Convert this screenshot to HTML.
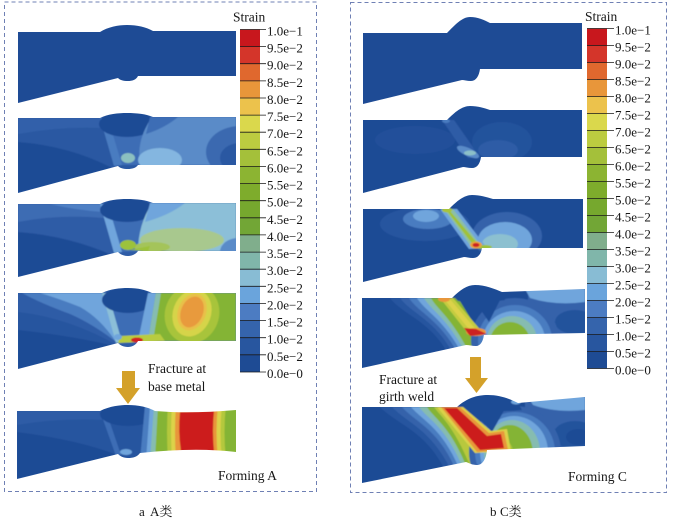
<!DOCTYPE html>
<html><head><meta charset="utf-8"><style>
html,body{margin:0;padding:0;background:#fff;}
svg{display:block}
text{font-family:"Liberation Serif","Noto Serif CJK SC",serif;fill:#161616;}
</style></head><body>
<svg width="674" height="518" viewBox="0 0 674 518" xmlns="http://www.w3.org/2000/svg">
<defs>
<filter id="bl" x="-5%" y="-5%" width="110%" height="110%"><feGaussianBlur stdDeviation="0.6"/></filter>
<clipPath id="a1"><path d="M18,32 L100,32 C108,27 118,25 127,25 C137,25 146,27 153,31 L236,31 L236,76 L138,76 C136,80 132,81 128,81 C123,81 120,80 118,78 L18,103 Z"/></clipPath>
<clipPath id="a2"><path d="M18,118 L100,118 C108,114 118,113 127,113 C137,113 146,114 153,117 L236,117 L236,165 L138,165 C136,168 132,169 128,169 C123,169 120,168 118,166 L18,193 Z"/></clipPath>
<clipPath id="a3"><path d="M18,204 L100,204 C108,200 118,199 127,199 C137,199 146,200 153,203 L236,203 L236,251 L138,251 C136,254 132,256 128,256 C123,256 120,254 118,252 L18,277 Z"/></clipPath>
<clipPath id="a4"><path d="M18,293 L102,293 C110,289 120,288 128,288 C138,288 146,290 152,293 L236,293 L236,341 L138,341 C136,345 132,347 128,347 C123,347 120,345 118,343 L18,369 Z"/></clipPath>
<clipPath id="a5"><path d="M17,411 L100,411 C110,406 120,405 128,405 C138,405 148,407 155,411 Q190,414 236,410 L236,452 Q195,447 140,453 C137,457 133,458 128,458 C123,458 120,456 118,454 L17,479 Z"/></clipPath>
<clipPath id="c1"><path d="M363,33 L447,33 C455,25 462,17 470,17 C478,17 484,20 490,23 L582,23 L582,69 L480,69 C479,76 476,81 471,81 C467,81 464,80 462,80 L363,104 Z"/></clipPath>
<clipPath id="c2"><path d="M363,120 L447,120 C455,112 462,106 470,106 C478,106 484,108 490,110 L582,110 L582,157 L481,157 C480,164 477,168 472,168 C468,168 465,167 463,167 L363,193 Z"/></clipPath>
<clipPath id="c3"><path d="M363,209 L449,209 C457,201 464,195 472,195 C480,195 486,197 493,199 L583,199 L583,248 L482,248 C481,254 478,258 473,258 C469,258 466,257 464,257 L363,282 Z"/></clipPath>
<clipPath id="c4"><path d="M362,298 L452,298 C460,290 467,285 475,285 C485,285 495,289 502,292 L585,289 L585,333 L484,335 C483,342 480,346 476,346 C472,346 469,345 466,345 L362,368 Z"/></clipPath>
<clipPath id="c5"><path d="M362,407 L457,407 C467,398 477,395 488,395 C500,395 510,399 518,403 L585,397 L585,446 L487,450 C486,460 482,465 477,465 C472,465 469,463 466,462 L362,483 Z"/></clipPath>
</defs>
<rect width="674" height="518" fill="#fff"/>

<!-- frames -->
<rect x="4.5" y="2" width="312" height="489.5" fill="none" stroke="#6f80b4" stroke-width="1" stroke-dasharray="4 3"/>
<rect x="350.5" y="2.5" width="316" height="490" fill="none" stroke="#6f80b4" stroke-width="1" stroke-dasharray="4 3"/>

<!-- ===== Panel A ===== -->
<g clip-path="url(#a1)"><rect x="10" y="20" width="240" height="90" fill="#1e4b95"/></g>

<g clip-path="url(#a2)"><g filter="url(#bl)">
<rect x="10" y="105" width="240" height="95" fill="#2b58a2"/>
<path d="M18,118 L102,118 L104,128 Q60,126 18,134 Z" fill="#3361aa"/>
<path d="M18,142 Q70,146 112,168 L18,193 Z" fill="#1e4b95"/>
<path d="M108,130 L150,125 L140,165 L118,165 Z" fill="#3d6db5"/>
<path d="M100,118 L108,118 L122,165 L114,166 Z" fill="#4a7bc0"/>
<ellipse cx="127" cy="124" rx="28" ry="13" fill="#1e4b95"/>
<path d="M152,117 L236,117 L236,165 L140,165 Q136,140 152,117Z" fill="#5a8bc8"/>
<path d="M150,117 L178,117 Q165,128 146,134 Z" fill="#3d6db5"/>
<ellipse cx="160" cy="160" rx="22" ry="12" fill="#84b6e0"/>
<ellipse cx="128" cy="158" rx="7" ry="5" fill="#8cc0c0"/>
<ellipse cx="240" cy="152" rx="34" ry="26" fill="#3b69b0"/>
<ellipse cx="240" cy="158" rx="20" ry="15" fill="#2b58a2"/>
</g></g>

<g clip-path="url(#a3)"><g filter="url(#bl)">
<rect x="10" y="195" width="240" height="90" fill="#2e5ca6"/>
<path d="M18,204 L102,204 L104,218 Q60,214 18,222 Z" fill="#3d6cb3"/>
<path d="M50,204 L102,204 L103,212 Q75,210 50,204Z" fill="#4f80c4"/>
<path d="M18,232 Q70,236 114,256 L18,277 Z" fill="#1e4b95"/>
<path d="M108,215 L155,210 L145,251 L118,252 Z" fill="#3d6db5"/>
<path d="M100,204 L108,204 L122,252 L114,253 Z" fill="#6fa5dc"/>
<ellipse cx="127" cy="210" rx="27" ry="12" fill="#1e4b95"/>
<path d="M152,203 L236,203 L236,251 L138,251 Q138,225 152,203Z" fill="#8cbfd8"/>
<path d="M150,203 L185,203 Q170,215 145,222 Z" fill="#6fa5dc"/>
<ellipse cx="182" cy="240" rx="42" ry="12" fill="#a8c88e"/>
<ellipse cx="152" cy="247" rx="18" ry="5" fill="#a4c45a"/>
<ellipse cx="128" cy="245" rx="8" ry="5" fill="#9cc23a"/>
<path d="M130,250 L150,246 L148,251 Z" fill="#9cc23a"/>
<ellipse cx="238" cy="252" rx="18" ry="14" fill="#5a8bc8"/>
</g></g>

<g clip-path="url(#a4)"><g filter="url(#bl)">
<rect x="10" y="285" width="240" height="90" fill="#2e5ca6"/>
<path d="M22,293 L104,293 L120,345 Q95,325 70,314 Q40,303 22,293 Z" fill="#4a7bc0"/>
<path d="M40,293 L102,293 L116,342 Q100,318 80,307 Q60,299 40,293 Z" fill="#6fa5dc"/>
<path d="M18,312 Q70,318 118,346 L18,369 Z" fill="#27559f"/>
<path d="M18,330 Q75,336 118,347 L18,369 Z" fill="#1e4b95"/>
<path d="M105,300 L152,298 L145,341 L118,343 Z" fill="#3d6db5"/>
<path d="M102,293 L108,293 L122,342 L116,343 Z" fill="#8cbfd8"/>
<ellipse cx="128" cy="300" rx="26" ry="13" fill="#1e4b95"/>
<path d="M150,293 L236,293 L236,341 L138,341 Z" fill="#84b434"/>
<path d="M148,293 L156,293 L148,341 L138,341 Z" fill="#6fa5dc"/>
<path d="M156,293 L161,293 L153,341 L148,341Z" fill="#86bcb0"/>
<ellipse cx="192" cy="314" rx="27" ry="30" transform="rotate(20 192 314)" fill="#a8c43a"/>
<ellipse cx="192" cy="313" rx="19" ry="24" transform="rotate(20 192 313)" fill="#d6d44a"/>
<ellipse cx="192" cy="312" rx="14" ry="19" transform="rotate(22 192 312)" fill="#e8c04a"/>
<ellipse cx="192" cy="312" rx="11" ry="16" transform="rotate(22 192 312)" fill="#e89a3e"/>
<path d="M120,336 L160,334 L165,341 L118,343 Z" fill="#b8cc40"/>
<ellipse cx="137" cy="340" rx="6" ry="2.5" fill="#d02020"/>
<ellipse cx="118" cy="337" rx="4" ry="3" fill="#6fa5dc"/>
</g></g>

<g clip-path="url(#a5)"><g filter="url(#bl)">
<rect x="10" y="400" width="240" height="85" fill="#27559f"/>
<path d="M17,411 L100,411 L102,420 Q60,418 17,425Z" fill="#2e5ca6"/>
<path d="M17,432 Q80,440 120,456 L17,479 Z" fill="#1e4b95"/>
<path d="M100,411 L106,411 L121,455 L116,456 Z" fill="#3d6db5"/>
<ellipse cx="128" cy="414" rx="28" ry="12" fill="#1e4b95"/>
<ellipse cx="126" cy="452" rx="6" ry="3" fill="#6fa5dc"/>
<path d="M145,405 L240,405 L240,460 L140,460 Z" fill="#4a7bc0"/>
<path d="M150,405 L240,405 L240,460 L146,460 Z" fill="#6fa5dc"/>
<path d="M154,405 L240,405 L240,460 L150,460 Z" fill="#86bcb0"/>
<path d="M158,405 L240,405 L240,460 L155,460 Z" fill="#84b434"/>
<path d="M168,405 Q166,431 168,460 L226,460 Q223,431 226,405 Z" fill="#b4c83c"/>
<path d="M172,405 Q170,431 172,460 L222,460 Q219,431 222,405 Z" fill="#dcd24a"/>
<path d="M176,405 Q174,431 176,460 L218,460 Q215,431 218,405 Z" fill="#e8963a"/>
<path d="M180,412 Q178,431 181,451 L214,451 Q212,431 214,411 Z" fill="#cc1f1f"/>
</g></g>

<!-- arrow A -->
<rect x="122" y="371" width="13" height="18" fill="#d4a12a"/>
<polygon points="116,388 140,388 128,404" fill="#d4a12a"/>
<text x="148" y="373" font-size="13.5">Fracture at</text>
<text x="148" y="391" font-size="13.5">base metal</text>
<text x="218" y="480" font-size="13.5">Forming A</text>

<!-- colorbar A -->
<g>
<rect x="240" y="29.5" width="20" height="17.2" fill="#c8171d"/>
<rect x="240" y="46.6" width="20" height="17.2" fill="#d4352a"/>
<rect x="240" y="63.7" width="20" height="17.2" fill="#e0682e"/>
<rect x="240" y="80.9" width="20" height="17.2" fill="#e8963a"/>
<rect x="240" y="98" width="20" height="17.2" fill="#ecc24c"/>
<rect x="240" y="115.1" width="20" height="17.2" fill="#dad84c"/>
<rect x="240" y="132.2" width="20" height="17.2" fill="#bccc40"/>
<rect x="240" y="149.3" width="20" height="17.2" fill="#a4c03a"/>
<rect x="240" y="166.5" width="20" height="17.2" fill="#8cb432"/>
<rect x="240" y="183.6" width="20" height="17.2" fill="#7eac2c"/>
<rect x="240" y="200.7" width="20" height="17.2" fill="#76a82e"/>
<rect x="240" y="217.8" width="20" height="17.2" fill="#72a636"/>
<rect x="240" y="234.9" width="20" height="17.2" fill="#80ae8c"/>
<rect x="240" y="252.1" width="20" height="17.2" fill="#80b6aa"/>
<rect x="240" y="269.2" width="20" height="17.2" fill="#88bcd4"/>
<rect x="240" y="286.3" width="20" height="17.2" fill="#6aa4dc"/>
<rect x="240" y="303.4" width="20" height="17.2" fill="#4c7cc2"/>
<rect x="240" y="320.5" width="20" height="17.2" fill="#3564ac"/>
<rect x="240" y="337.7" width="20" height="17.2" fill="#28569f"/>
<rect x="240" y="354.8" width="20" height="17.2" fill="#1e4b94"/>
<g stroke="#1a1a1a" stroke-width="0.8">
<line x1="240" y1="29.5" x2="266" y2="29.5"/><line x1="240" y1="46.6" x2="266" y2="46.6"/><line x1="240" y1="63.7" x2="266" y2="63.7"/><line x1="240" y1="80.9" x2="266" y2="80.9"/><line x1="240" y1="98" x2="266" y2="98"/><line x1="240" y1="115.1" x2="266" y2="115.1"/><line x1="240" y1="132.2" x2="266" y2="132.2"/><line x1="240" y1="149.3" x2="266" y2="149.3"/><line x1="240" y1="166.5" x2="266" y2="166.5"/><line x1="240" y1="183.6" x2="266" y2="183.6"/><line x1="240" y1="200.7" x2="266" y2="200.7"/><line x1="240" y1="217.8" x2="266" y2="217.8"/><line x1="240" y1="234.9" x2="266" y2="234.9"/><line x1="240" y1="252.1" x2="266" y2="252.1"/><line x1="240" y1="269.2" x2="266" y2="269.2"/><line x1="240" y1="286.3" x2="266" y2="286.3"/><line x1="240" y1="303.4" x2="266" y2="303.4"/><line x1="240" y1="320.5" x2="266" y2="320.5"/><line x1="240" y1="337.7" x2="266" y2="337.7"/><line x1="240" y1="354.8" x2="266" y2="354.8"/><line x1="240" y1="372" x2="266" y2="372"/>
</g>
<g font-size="13">
<text x="267" y="35.5">1.0e−1</text><text x="267" y="52.6">9.5e−2</text><text x="267" y="69.7">9.0e−2</text><text x="267" y="86.9">8.5e−2</text><text x="267" y="104">8.0e−2</text><text x="267" y="121.1">7.5e−2</text><text x="267" y="138.2">7.0e−2</text><text x="267" y="155.3">6.5e−2</text><text x="267" y="172.5">6.0e−2</text><text x="267" y="189.6">5.5e−2</text><text x="267" y="206.7">5.0e−2</text><text x="267" y="223.8">4.5e−2</text><text x="267" y="240.9">4.0e−2</text><text x="267" y="258.1">3.5e−2</text><text x="267" y="275.2">3.0e−2</text><text x="267" y="292.3">2.5e−2</text><text x="267" y="309.4">2.0e−2</text><text x="267" y="326.5">1.5e−2</text><text x="267" y="343.7">1.0e−2</text><text x="267" y="360.8">0.5e−2</text><text x="267" y="378">0.0e−0</text>
</g>
<text x="233" y="21.5" font-size="13.5">Strain</text>
</g>

<!-- ===== Panel C ===== -->
<g clip-path="url(#c1)"><rect x="355" y="10" width="240" height="100" fill="#1e4b95"/></g>

<g clip-path="url(#c2)"><g filter="url(#bl)">
<rect x="355" y="100" width="240" height="100" fill="#1e4b95"/>
<ellipse cx="415" cy="140" rx="40" ry="14" fill="#22509a"/>
<path d="M442,120 L454,120 L480,157 L468,158 Z" fill="#2e5ca6"/>
<ellipse cx="502" cy="142" rx="30" ry="20" fill="#24529c"/>
<ellipse cx="498" cy="150" rx="20" ry="10" fill="#2e5ca6"/>
<ellipse cx="468" cy="152" rx="12" ry="4" transform="rotate(25 468 152)" fill="#5a8bc8"/>
<ellipse cx="470" cy="153" rx="6" ry="2.5" fill="#8cc0c8"/>
<ellipse cx="446" cy="121" rx="4" ry="2" fill="#4a7bc0"/>
</g></g>

<g clip-path="url(#c3)"><g filter="url(#bl)">
<rect x="355" y="190" width="240" height="100" fill="#1e4b95"/>
<ellipse cx="425" cy="224" rx="45" ry="17" fill="#27559f"/>
<ellipse cx="428" cy="219" rx="25" ry="10" fill="#4a7bc0"/>
<ellipse cx="426" cy="216" rx="13" ry="6" fill="#6fa5dc"/>
<ellipse cx="507" cy="236" rx="35" ry="24" fill="#3462aa"/>
<ellipse cx="505" cy="240" rx="27" ry="18" fill="#6fa5dc"/>
<ellipse cx="500" cy="244" rx="18" ry="10" fill="#8cc0d0"/>
<path d="M440,209 L457,209 L487,248 L469,249 Z" fill="#6fa5dc"/>
<path d="M444,209 L453,209 L482,247 L472,248 Z" fill="#8cbfa8"/>
<path d="M447,211 L450,211 L479,245 L474,246 Z" fill="#a0c23a"/>
<ellipse cx="484" cy="247" rx="8" ry="2" fill="#9cc23a"/>
<ellipse cx="476" cy="245" rx="6" ry="3.5" fill="#e8a03c"/>
<ellipse cx="476" cy="245" rx="3.5" ry="2" fill="#cc2020"/>
<ellipse cx="447" cy="210" rx="5" ry="2.5" fill="#a8c43a"/>
</g></g>

<g clip-path="url(#c4)"><g filter="url(#bl)">
<rect x="355" y="280" width="240" height="95" fill="#1e4b95"/>
<path d="M390,298 C402,314 428,320 446,350 L490,350 L455,298 Z" fill="#27559f"/>
<path d="M400,298 C411,313 433,319 451,350 L490,350 L455,298 Z" fill="#3462aa"/>
<path d="M409,298 C418,312 438,319 456,350 L490,350 L455,298 Z" fill="#4a7bc0"/>
<path d="M417,298 C425,311 442,318 460,350 L490,350 L455,298 Z" fill="#6fa5dc"/>
<path d="M424,298 C431,310 446,317 464,350 L490,350 L455,298 Z" fill="#86bcb0"/>
<path d="M431,298 C437,309 450,316 468,350 L490,350 L458,298 Z" fill="#84b434"/>
<rect x="528" y="285" width="62" height="52" fill="#3462aa"/>
<path d="M525,289 L585,289 L585,302 Q555,306 530,298Z" fill="#6fa5dc"/>
<ellipse cx="575" cy="322" rx="20" ry="12" fill="#24529c"/>
<ellipse cx="515" cy="340" rx="44" ry="42" fill="#3462aa"/>
<ellipse cx="515" cy="340" rx="37" ry="35" fill="#4a7bc0"/>
<ellipse cx="514" cy="340" rx="31" ry="29" fill="#6fa5dc"/>
<ellipse cx="512" cy="340" rx="25" ry="24" fill="#86bcb0"/>
<ellipse cx="510" cy="342" rx="20" ry="20" fill="#84b434"/>
<path d="M455,298 C462,290 470,285 476,285 C486,285 496,289 503,292 L505,300 Q480,304 458,301 Z" fill="#1e4b95"/>
<path d="M474,300 L500,300 L489,322 Z" fill="#1e4b95"/>
<path d="M440,298 L453,298 L484,334 L470,336 Z" fill="#c4cc40"/>
<path d="M444,299 L449,298 L478,332 L473,334 Z" fill="#dcd24a"/>
<ellipse cx="444" cy="299" rx="6" ry="3" fill="#e8963a"/>
<ellipse cx="476" cy="332" rx="10" ry="4" fill="#e8963a"/>
<path d="M464,328 L476,329 L487,334 L470,336 Z" fill="#cc2020"/>
</g></g>

<g clip-path="url(#c5)"><g filter="url(#bl)">
<rect x="355" y="390" width="240" height="100" fill="#1e4b95"/>
<path d="M380,407 C398,425 424,430 444,468 L500,468 L460,407 Z" fill="#27559f"/>
<path d="M392,407 C407,423 430,429 450,468 L500,468 L460,407 Z" fill="#3462aa"/>
<path d="M402,407 C415,422 437,428 455,468 L500,468 L460,407 Z" fill="#4a7bc0"/>
<path d="M411,407 C422,420 442,428 459,468 L500,468 L460,407 Z" fill="#6fa5dc"/>
<path d="M419,407 C428,419 446,427 463,468 L500,468 L460,407 Z" fill="#86bcb0"/>
<path d="M427,407 C434,418 451,427 467,468 L500,468 L460,407 Z" fill="#84b434"/>
<path d="M434,407 C440,416 453,424 471,468 L500,468 L460,407 Z" fill="#b8c83c"/>
<rect x="525" y="395" width="65" height="60" fill="#3462aa"/>
<path d="M528,397 L585,397 L585,410 Q555,413 533,405 Z" fill="#6fa5dc"/>
<ellipse cx="575" cy="435" rx="22" ry="14" fill="#24529c"/>
<ellipse cx="578" cy="437" rx="12" ry="8" fill="#1e4b95"/>
<ellipse cx="515" cy="452" rx="46" ry="46" fill="#3462aa"/>
<ellipse cx="515" cy="452" rx="40" ry="40" fill="#4a7bc0"/>
<ellipse cx="514" cy="452" rx="34" ry="36" fill="#6fa5dc"/>
<ellipse cx="512" cy="452" rx="28" ry="32" fill="#86bcb0"/>
<ellipse cx="510" cy="454" rx="23" ry="29" fill="#84b434"/>
<ellipse cx="503" cy="452" rx="10" ry="12" fill="#a8c43a"/>
<path d="M458,407 C468,399 478,395 488,395 C500,395 510,399 518,403 L522,410 Q495,413 468,409 Z" fill="#1e4b95"/>
<path d="M468,407 L506,407 L492,432 Z" fill="#1e4b95"/>
<ellipse cx="516" cy="402" rx="5" ry="2.5" fill="#6fa5dc"/>
<path d="M437,407 L463,407 L491,431 L507,429 L511,451 L475,453 Z" fill="#dcd24a"/>
<path d="M441,407 L460,407 L489,433 L504,431 L508,450 L477,452 Z" fill="#e8963a"/>
<path d="M444,408 L457,408 L487,436 L501,434 L504,448 L480,450 Z" fill="#cc1f1f"/>
</g></g>

<!-- arrow C -->
<rect x="470" y="357" width="11" height="22" fill="#d4a12a"/>
<polygon points="465,378 488,378 476.5,393" fill="#d4a12a"/>
<text x="379" y="384" font-size="13.5">Fracture at</text>
<text x="379" y="401" font-size="13.5">girth weld</text>
<text x="568" y="481" font-size="13.5">Forming C</text>

<!-- colorbar C -->
<g>
<rect x="587" y="28.5" width="20" height="17.1" fill="#c8171d"/>
<rect x="587" y="45.5" width="20" height="17.1" fill="#d4352a"/>
<rect x="587" y="62.5" width="20" height="17.1" fill="#e0682e"/>
<rect x="587" y="79.5" width="20" height="17.1" fill="#e8963a"/>
<rect x="587" y="96.5" width="20" height="17.1" fill="#ecc24c"/>
<rect x="587" y="113.5" width="20" height="17.1" fill="#dad84c"/>
<rect x="587" y="130.5" width="20" height="17.1" fill="#bccc40"/>
<rect x="587" y="147.5" width="20" height="17.1" fill="#a4c03a"/>
<rect x="587" y="164.5" width="20" height="17.1" fill="#8cb432"/>
<rect x="587" y="181.5" width="20" height="17.1" fill="#7eac2c"/>
<rect x="587" y="198.5" width="20" height="17.1" fill="#76a82e"/>
<rect x="587" y="215.5" width="20" height="17.1" fill="#72a636"/>
<rect x="587" y="232.5" width="20" height="17.1" fill="#80ae8c"/>
<rect x="587" y="249.5" width="20" height="17.1" fill="#80b6aa"/>
<rect x="587" y="266.5" width="20" height="17.1" fill="#88bcd4"/>
<rect x="587" y="283.5" width="20" height="17.1" fill="#6aa4dc"/>
<rect x="587" y="300.5" width="20" height="17.1" fill="#4c7cc2"/>
<rect x="587" y="317.5" width="20" height="17.1" fill="#3564ac"/>
<rect x="587" y="334.5" width="20" height="17.1" fill="#28569f"/>
<rect x="587" y="351.5" width="20" height="17" fill="#1e4b94"/>
<g stroke="#1a1a1a" stroke-width="0.8">
<line x1="587" y1="28.5" x2="614" y2="28.5"/><line x1="587" y1="45.5" x2="614" y2="45.5"/><line x1="587" y1="62.5" x2="614" y2="62.5"/><line x1="587" y1="79.5" x2="614" y2="79.5"/><line x1="587" y1="96.5" x2="614" y2="96.5"/><line x1="587" y1="113.5" x2="614" y2="113.5"/><line x1="587" y1="130.5" x2="614" y2="130.5"/><line x1="587" y1="147.5" x2="614" y2="147.5"/><line x1="587" y1="164.5" x2="614" y2="164.5"/><line x1="587" y1="181.5" x2="614" y2="181.5"/><line x1="587" y1="198.5" x2="614" y2="198.5"/><line x1="587" y1="215.5" x2="614" y2="215.5"/><line x1="587" y1="232.5" x2="614" y2="232.5"/><line x1="587" y1="249.5" x2="614" y2="249.5"/><line x1="587" y1="266.5" x2="614" y2="266.5"/><line x1="587" y1="283.5" x2="614" y2="283.5"/><line x1="587" y1="300.5" x2="614" y2="300.5"/><line x1="587" y1="317.5" x2="614" y2="317.5"/><line x1="587" y1="334.5" x2="614" y2="334.5"/><line x1="587" y1="351.5" x2="614" y2="351.5"/><line x1="587" y1="368.5" x2="614" y2="368.5"/>
</g>
<g font-size="13">
<text x="615" y="34.5">1.0e−1</text><text x="615" y="51.5">9.5e−2</text><text x="615" y="68.5">9.0e−2</text><text x="615" y="85.5">8.5e−2</text><text x="615" y="102.5">8.0e−2</text><text x="615" y="119.5">7.5e−2</text><text x="615" y="136.5">7.0e−2</text><text x="615" y="153.5">6.5e−2</text><text x="615" y="170.5">6.0e−2</text><text x="615" y="187.5">5.5e−2</text><text x="615" y="204.5">5.0e−2</text><text x="615" y="221.5">4.5e−2</text><text x="615" y="238.5">4.0e−2</text><text x="615" y="255.5">3.5e−2</text><text x="615" y="272.5">3.0e−2</text><text x="615" y="289.5">2.5e−2</text><text x="615" y="306.5">2.0e−2</text><text x="615" y="323.5">1.5e−2</text><text x="615" y="340.5">1.0e−2</text><text x="615" y="357.5">0.5e−2</text><text x="615" y="374.5">0.0e−0</text>
</g>
<text x="585" y="21" font-size="13.5">Strain</text>
</g>

<!-- captions -->
<text x="139" y="516" font-size="13">a</text>
<text x="150" y="516" font-size="13">A类</text>
<text x="490" y="516" font-size="13">b</text>
<text x="500" y="516" font-size="13">C类</text>
</svg>
</body></html>
